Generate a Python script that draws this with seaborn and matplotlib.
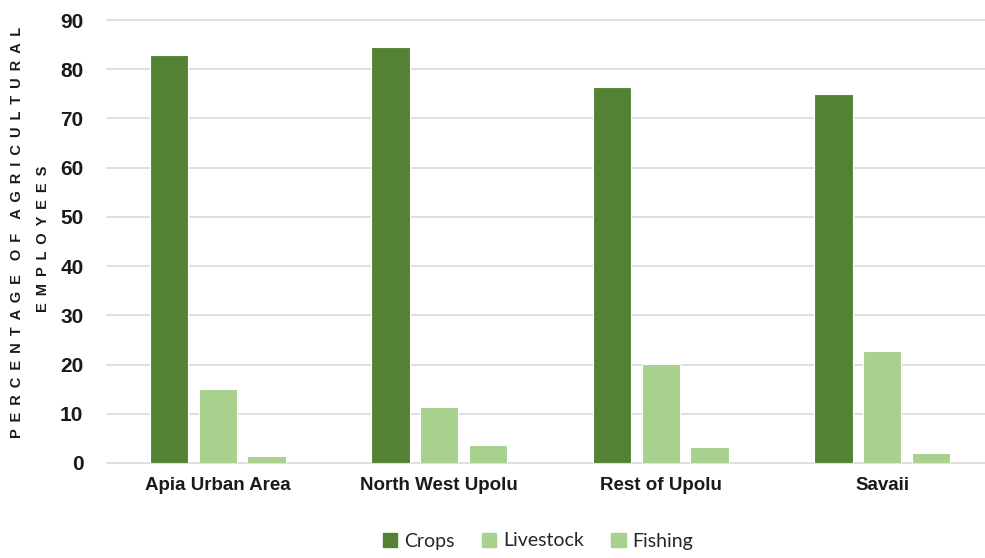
import numpy as np
import pandas as pd
import matplotlib
matplotlib.use("Agg")
import matplotlib.pyplot as plt
import seaborn as sns

# Data
regions = ['Apia Urban Area', 'North West Upolu', 'Rest of Upolu', 'Savaii']
sectors = ['Crops', 'Livestock', 'Fishing']
crops = [82.9, 84.5, 76.4, 74.9]
livestock = [15.0, 11.3, 20.2, 22.8]
fishing = [1.5, 3.7, 3.3, 2.1]
y_ticks = [0, 10, 20, 30, 40, 50, 60, 70, 80, 90]

df = pd.DataFrame({
    'Region': regions * 3,
    'Sector': ['Crops'] * 4 + ['Livestock'] * 4 + ['Fishing'] * 4,
    'Value': crops + livestock + fishing,
})

sns.set_theme(style='white')
plt.rcParams['font.family'] = ['Liberation Sans', 'DejaVu Sans']

palette = {'Crops': '#548235', 'Livestock': '#A9D18E', 'Fishing': '#A9D18E'}

fig = plt.figure(figsize=(9.85, 5.58), dpi=100)
ax = fig.add_axes([107 / 985, 95 / 558, 886 / 985, 443 / 558])

sns.barplot(data=df, x='Region', y='Value', hue='Sector', order=regions,
            hue_order=sectors, palette=palette, width=0.66, gap=0.21,
            edgecolor='white', linewidth=0.8, saturation=1, ax=ax, legend=False)

ax.set_ylim(0, 90)
ax.set_yticks(y_ticks)
ax.set_axisbelow(True)
ax.yaxis.grid(True, color='#D9D9D9', linewidth=1.2)
for gl in ax.get_ygridlines():
    gl.set_clip_on(False)
for s in ['top', 'right', 'left', 'bottom']:
    ax.spines[s].set_visible(False)

ax.tick_params(axis='y', length=0, pad=17, labelsize=15, labelcolor='#1a1a1a')
ax.tick_params(axis='x', length=0, pad=10, labelsize=13.5, labelcolor='#1a1a1a')
for t in ax.get_yticklabels() + ax.get_xticklabels():
    t.set_fontweight('bold')

ax.set_xlabel('')
ax.set_ylabel('')

# letter-spaced axis title, like the original
sep = ' \u2009'
def spaced(s):
    return (sep * 2).join(sep.join(w) for w in s.split(' '))

fig.text(17 / 985, 1 - 232 / 558, spaced('PERCENTAGE OF AGRICULTURAL'),
         rotation=90, ha='center', va='center', fontsize=10.5,
         fontweight='bold', color='#1a1a1a')
fig.text(43 / 985, 1 - 239 / 558, spaced('EMPLOYEES'),
         rotation=90, ha='center', va='center', fontsize=10.5,
         fontweight='bold', color='#1a1a1a')

handles = [plt.Rectangle((0, 0), 1, 1, color=palette[s]) for s in sectors]
fig.legend(handles, sectors, loc='center', bbox_to_anchor=(538 / 985, 17 / 558),
           ncol=3, frameon=False, prop={'family': 'Lato', 'size': 14},
           handlelength=0.75, handleheight=0.75, handletextpad=0.35,
           columnspacing=1.4)

fig.savefig('out.png', dpi=100)
